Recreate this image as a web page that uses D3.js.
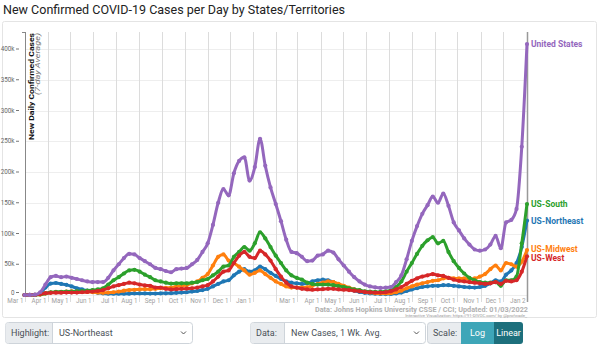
<!DOCTYPE html>
<html>
<head>
<meta charset="utf-8">
<script src="https://cdn.jsdelivr.net/npm/d3@7"></script>
<style>
body { margin: 0; background: #fff; }
svg text { font-family: Roboto, "Open Sans", sans-serif; }
</style>
</head>
<body>
<div id="box"></div>
<script>
// weekly points (Sundays) from Mar 1 2020 to Jan 2 2022, values in thousands
var firstDay = "2020-03-01";
var lastDay = "2022-01-02";

var usTotal = [0, 0.1, 0.6, 4.5, 17, 29, 31, 29, 30, 28,
  26, 24, 22, 21, 21, 21, 28, 40, 50, 60,
  67, 66, 60, 55, 50, 44, 42, 39, 37, 42,
  43, 44, 50, 57, 70, 84, 114, 150, 172, 162,
  198, 218, 224, 186, 208, 254, 210, 175, 148, 120,
  90, 70, 68, 62, 55, 56, 64, 66, 72, 69,
  58, 48, 38, 29, 22, 17, 14, 12.5, 11.5, 12,
  13, 21, 32, 58, 88, 112, 132, 146, 160, 150,
  165, 145, 118, 105, 92, 82, 74, 72, 74, 82,
  96, 76, 118, 122, 140, 241, 408];

var usNortheast = [0, 0.05, 0.3, 3, 12, 18.5, 19.5, 18, 16.5, 14,
  11, 9, 7, 5, 3.5, 2.5, 2, 2, 2, 2,
  2.2, 2.5, 2.5, 2.5, 2.3, 2.3, 2.6, 2.8, 3, 3.5,
  4, 4.5, 5.5, 6.5, 8, 10, 14, 18, 22, 24,
  32, 38, 42, 38, 40, 46, 42, 36, 31, 26,
  22, 20, 19, 18, 19, 22, 24, 25, 24, 21,
  17, 13, 10, 7, 5, 3.5, 2.5, 2, 1.6, 1.5,
  1.8, 2.5, 4, 6.5, 9, 11, 13, 14, 15, 15,
  16, 16, 15, 14, 13, 12.5, 12, 13, 15, 19,
  24, 22, 33, 40, 52, 78, 121];

var usMidwest = [0, 0.01, 0.1, 0.7, 2.5, 4, 4.5, 4.5, 5.5, 6,
  5.5, 5, 5, 4.5, 4, 3.5, 4, 4.5, 5.5, 7,
  8, 8.5, 9, 9.5, 9.5, 10, 11, 11.5, 12, 14,
  15, 16, 19, 22, 28, 34, 48, 62, 66, 56,
  52, 46, 40, 33, 36, 40, 34, 28, 22, 18,
  14, 12, 12, 12, 12.5, 15, 18, 20, 22, 21,
  18, 15, 12, 9, 7, 5, 4, 3, 2.5, 2.5,
  3, 4.5, 7, 11, 14, 17, 19, 21, 23, 24,
  27, 28, 27, 27, 27, 26, 27, 30, 34, 42,
  48, 40, 52, 50, 46, 54, 73];

var usSouth = [0, 0.01, 0.15, 0.8, 2.5, 4.5, 5, 5.2, 5.5, 5.5,
  6, 6.5, 7, 8, 9, 11, 17, 24, 29, 35,
  40, 41, 38, 33, 29, 24, 22, 20, 18.5, 19,
  19, 19, 20, 21, 24, 26, 32, 38, 46, 48,
  62, 70, 78, 72, 84, 102, 92, 78, 64, 52,
  40, 32, 28, 25, 20, 18, 17, 17, 17, 16,
  14.5, 13, 11, 9, 8, 6, 5.5, 5, 5, 6,
  7.5, 13, 22, 38, 52, 67, 80, 89, 94, 84,
  88, 70, 55, 44, 35, 28, 24, 21, 20, 20,
  21, 15, 24, 24, 30, 84, 148];

var usWest = [0, 0.05, 0.3, 1.5, 3, 3.5, 3.8, 3.8, 4, 4,
  4, 4.5, 5, 5.5, 6.5, 8, 11, 14, 16, 18,
  20, 19, 17, 15.5, 15, 12, 12, 10, 9, 9.5,
  10, 10.5, 11, 12, 14, 16, 22, 30, 38, 40,
  52, 64, 70, 62, 60, 72, 66, 56, 42, 30,
  20, 14, 12, 10, 9, 8.5, 9, 9.5, 10, 10,
  9, 8.5, 8, 7, 6, 5, 4.5, 4, 4, 4.5,
  6, 9, 13, 18, 23, 27, 30, 32, 34, 32,
  31, 28, 25, 23, 22, 21, 20, 19, 18, 19,
  21, 18, 23, 22, 24, 38, 63];

var seriesNames = ["US-Northeast", "US-Midwest", "US-South", "US-West", "United States"];
var seriesValues = [usNortheast, usMidwest, usSouth, usWest, usTotal];
var seriesColors = ["#1f77b4", "#ff7f0e", "#2ca02c", "#d62728", "#9467bd"];

var xTickDates = ["2020-03-01", "2020-04-01", "2020-05-01", "2020-06-01", "2020-07-01", "2020-08-01",
  "2020-09-01", "2020-10-01", "2020-11-01", "2020-12-01", "2021-01-01", "2021-02-01", "2021-03-01",
  "2021-04-01", "2021-05-01", "2021-06-01", "2021-07-01", "2021-08-01", "2021-09-01", "2021-10-01",
  "2021-11-01", "2021-12-01", "2022-01-02"];
var xTickLabels = ["Mar 1", "Apr 1", "May 1", "Jun 1", "Jul 1", "Aug 1", "Sep 1", "Oct 1", "Nov 1",
  "Dec 1", "Jan 1", "", "Mar 1", "Apr 1", "May 1", "Jun 1", "Jul 1", "Aug 1", "Sep 1", "Oct 1",
  "Nov 1", "Dec 1", "Jan 2"];
var yTicks = [0, 50000, 100000, 150000, 200000, 250000, 300000, 350000, 400000];
var yTickLabels = ["0", "50k", "100k", "150k", "200k", "250k", "300k", "350k", "400k"];

document.addEventListener("DOMContentLoaded", function() {
  drawChart();
});

function drawChart() {
  var width = 600;
  var height = 345;
  var parse = d3.timeParse("%Y-%m-%d");
  var start = parse(firstDay);
  var end = parse(lastDay);

  var svg = d3.select("#box")
    .append("svg")
    .attr("width", width)
    .attr("height", height);

  var x = d3.scaleTime().domain([start, end]).range([24.5, 527]);
  var y = d3.scaleLinear().domain([0, 400000]).range([295, 49]);
  var plotTop = 32;

  // title
  svg.append("text")
    .attr("x", 3)
    .attr("y", 13.5)
    .attr("font-size", 13)
    .attr("fill", "#222")
    .attr("textLength", 342)
    .attr("lengthAdjust", "spacingAndGlyphs")
    .text("New Confirmed COVID-19 Cases per Day by States/Territories");

  // frame
  svg.append("rect")
    .attr("x", 2.5).attr("y", 21.5)
    .attr("width", 594).attr("height", 296)
    .attr("rx", 2)
    .attr("fill", "#fff")
    .attr("stroke", "#e4e4e4");

  // horizontal grid
  svg.selectAll(".hgrid")
    .data(yTicks)
    .enter()
    .append("line")
    .attr("x1", 25).attr("x2", 527)
    .attr("y1", function(d) { return Math.round(y(d)) + 0.5; })
    .attr("y2", function(d) { return Math.round(y(d)) + 0.5; })
    .attr("stroke", "#eeeeee");

  // vertical grid + x ticks
  var xt = svg.append("g");
  xTickDates.forEach(function(s, i) {
    var px = Math.round(x(parse(s))) + 0.5;
    xt.append("line")
      .attr("x1", px).attr("x2", px)
      .attr("y1", plotTop).attr("y2", 302)
      .attr("stroke", i == xTickDates.length - 1 ? "#999" : "#dcdcdc")
      .attr("stroke-width", i == xTickDates.length - 1 ? 1.5 : 1);
    xt.append("text")
      .attr("x", px - 2)
      .attr("y", 302.5)
      .attr("text-anchor", "end")
      .attr("font-size", 6.3)
      .attr("font-family", "Lato")
      .attr("fill", "#a0a0a0")
      .text(xTickLabels[i]);
  });

  // y axis
  svg.append("line")
    .attr("x1", 25.5).attr("x2", 25.5)
    .attr("y1", plotTop).attr("y2", 296)
    .attr("stroke", "#888");
  svg.append("line")
    .attr("x1", 22).attr("x2", 25.5)
    .attr("y1", plotTop + 0.5).attr("y2", plotTop + 0.5)
    .attr("stroke", "#888");
  var yt = svg.append("g");
  yTicks.forEach(function(v, i) {
    var py = y(v) - (v == 0 ? 2.5 : 0);
    yt.append("line")
      .attr("x1", 16).attr("x2", 19)
      .attr("y1", py).attr("y2", py)
      .attr("stroke", "#777");
    yt.append("text")
      .attr("x", 14.5)
      .attr("y", py + 2.2)
      .attr("text-anchor", "end")
      .attr("font-size", 6.3)
      .attr("font-family", "Lato")
      .attr("fill", "#666")
      .text(yTickLabels[i]);
  });

  // y axis titles
  svg.append("text")
    .attr("transform", "translate(33.5," + (plotTop + 1) + ") rotate(-90)")
    .attr("text-anchor", "end")
    .attr("font-size", 8)
    .attr("font-weight", "bold")
    .attr("font-family", "Lato")
    .attr("fill", "#111")
    .attr("textLength", 107)
    .attr("lengthAdjust", "spacingAndGlyphs")
    .text("New Daily Confirmed Cases");
  svg.append("text")
    .attr("transform", "translate(39.5," + (plotTop + 1) + ") rotate(-90)")
    .attr("text-anchor", "end")
    .attr("font-size", 6.8)
    .attr("font-style", "italic")
    .attr("fill", "#777")
    .attr("textLength", 62)
    .attr("lengthAdjust", "spacingAndGlyphs")
    .text("(7-day Average)");

  // series
  var line = d3.line()
    .x(function(d) { return x(d.date); })
    .y(function(d) { return y(d.value); })
    .curve(d3.curveMonotoneX);

  var labelShift = { "US-Midwest": -1, "US-West": 1.5 };

  seriesNames.forEach(function(name, k) {
    var pts = seriesValues[k].map(function(v, i) {
      return { date: d3.timeDay.offset(start, 7 * i), value: v * 1000 };
    });
    var g = svg.append("g");
    g.append("path")
      .datum(pts)
      .attr("d", line)
      .attr("fill", "none")
      .attr("stroke", seriesColors[k])
      .attr("stroke-width", 3)
      .attr("stroke-linejoin", "round");
    g.selectAll("circle")
      .data(pts)
      .enter()
      .append("circle")
      .attr("cx", function(d) { return x(d.date); })
      .attr("cy", function(d) { return y(d.value); })
      .attr("r", 2.1)
      .attr("fill", seriesColors[k]);
    var last = pts[pts.length - 1];
    svg.append("text")
      .attr("x", x(last.date) + 4)
      .attr("y", y(last.value) + 3 + (labelShift[name] || 0))
      .attr("font-size", 8.5)
      .attr("font-weight", "bold")
      .attr("font-family", "Lato")
      .attr("fill", seriesColors[k])
      .text(name);
  });

  // source
  svg.append("text")
    .attr("x", 528).attr("y", 312)
    .attr("text-anchor", "end")
    .attr("font-size", 7.3)
    .attr("font-weight", "bold")
    .attr("font-family", "Lato")
    .attr("fill", "#b0b0b0")
    .attr("textLength", 213)
    .attr("lengthAdjust", "spacingAndGlyphs")
    .text("Data: Johns Hopkins University CSSE / CCI; Updated: 01/03/2022");
  svg.append("text")
    .attr("x", 527).attr("y", 317)
    .attr("text-anchor", "end")
    .attr("font-size", 4.3)
    .attr("fill", "#999")
    .text("Interactive Visualization: https://91-DIVOC.com/ by @profwade_");

  // bottom controls
  drawSelect(svg, 5, 192, 52, "Highlight:", "US-Northeast");
  drawSelect(svg, 250, 425, 284, "Data:", "New Cases, 1 Wk. Avg.");

  svg.append("rect")
    .attr("x", 427.5).attr("y", 322.5)
    .attr("width", 40).attr("height", 21)
    .attr("rx", 3)
    .attr("fill", "#e9ecef").attr("stroke", "#ced4da");
  svg.append("text")
    .attr("x", 433).attr("y", 336)
    .attr("font-size", 9).attr("fill", "#495057")
    .text("Scale:");
  svg.append("rect")
    .attr("x", 461).attr("y", 322)
    .attr("width", 33).attr("height", 22)
    .attr("fill", "#3ea6b8");
  svg.append("path")
    .attr("d", "M494,322 h26 a3,3 0 0 1 3,3 v16 a3,3 0 0 1 -3,3 h-26 z")
    .attr("fill", "#1d6f7c");
  svg.append("text")
    .attr("x", 477.5).attr("y", 336)
    .attr("text-anchor", "middle")
    .attr("font-size", 9).attr("fill", "#fff")
    .text("Log");
  svg.append("text")
    .attr("x", 508.5).attr("y", 336)
    .attr("text-anchor", "middle")
    .attr("font-size", 9).attr("fill", "#fff")
    .text("Linear");
}

function drawSelect(svg, x0, x1, split, label, value) {
  svg.append("rect")
    .attr("x", x0 + 0.5).attr("y", 322.5)
    .attr("width", x1 - x0).attr("height", 21)
    .attr("rx", 3)
    .attr("fill", "#fff").attr("stroke", "#ced4da");
  svg.append("path")
    .attr("d", "M" + (x0 + 3.5) + ",323 h" + (split - x0 - 3) + " v20 h-" + (split - x0 - 3) + " a3,3 0 0 1 -3,-3 v-14 a3,3 0 0 1 3,-3 z")
    .attr("fill", "#e9ecef");
  svg.append("line")
    .attr("x1", split + 0.5).attr("x2", split + 0.5)
    .attr("y1", 323).attr("y2", 343)
    .attr("stroke", "#ced4da");
  svg.append("text")
    .attr("x", x0 + 6).attr("y", 336)
    .attr("font-size", 9).attr("fill", "#495057")
    .text(label);
  svg.append("text")
    .attr("x", split + 7).attr("y", 336)
    .attr("font-size", 9).attr("fill", "#495057")
    .text(value);
  svg.append("path")
    .attr("d", "M" + (x1 - 11) + ",331.5 l2.5,2.5 l2.5,-2.5")
    .attr("fill", "none")
    .attr("stroke", "#555")
    .attr("stroke-width", 1);
}
</script>
</body>
</html>
